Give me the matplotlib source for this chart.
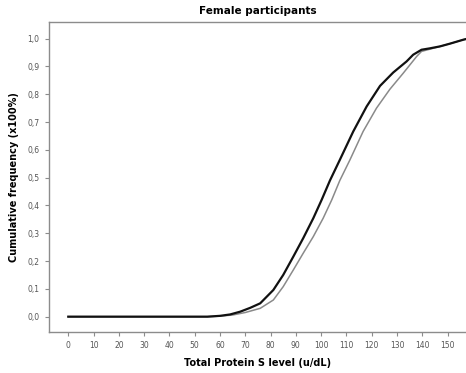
import matplotlib
matplotlib.use("Agg")
import matplotlib.pyplot as plt

# cumulative curves
black_x = [0, 55, 60, 64, 68, 72, 75.9, 81.1, 85, 89, 92.9, 96.9, 100.2, 103.5, 107.4,
           112.7, 118, 123.3, 128.5, 133.8, 136.4, 139.7, 143, 147, 151, 156.2, 158]
black_y = [0, 0, 0.003, 0.008, 0.018, 0.032, 0.048, 0.096, 0.15, 0.216, 0.282, 0.354,
           0.42, 0.49, 0.564, 0.666, 0.756, 0.83, 0.878, 0.918, 0.942, 0.96, 0.965,
           0.972, 0.982, 0.996, 1.0]
grey_x = [0, 55, 60, 65, 70, 75.9, 81.1, 85, 89, 92.9, 96.9, 100.8, 104.2, 107.4, 111.4,
          116.6, 121.9, 127.2, 132.5, 137.8, 139.7, 143, 147, 151, 156.2, 158]
grey_y = [0, 0, 0.002, 0.006, 0.015, 0.03, 0.06, 0.108, 0.168, 0.228, 0.288, 0.354,
          0.42, 0.49, 0.564, 0.666, 0.75, 0.818, 0.876, 0.936, 0.954, 0.962, 0.972,
          0.982, 0.996, 1.0]

xticks = list(range(0, 151, 10))
yticks = [i / 10 for i in range(11)]
ytick_labels = [("%.1f" % v).replace(".", ",") for v in yticks]

fig = plt.figure(figsize=(4.66, 3.73), dpi=100)
ax = fig.add_axes([0.1045, 0.11, 0.8955, 0.8297])

ax.plot(grey_x, grey_y, color="#8a8a8a", lw=1.1)
ax.plot(black_x, black_y, color="#111111", lw=1.6)

ax.set_xlim(-7.75, 157.3)
ax.set_ylim(-0.055, 1.058)
ax.set_xticks(xticks)
ax.set_xticklabels([str(t) for t in xticks])
ax.set_yticks(yticks)
ax.set_yticklabels(ytick_labels)

for s in ["left", "top", "bottom"]:
    ax.spines[s].set_color("#8c8c8c")
    ax.spines[s].set_linewidth(1.0)
ax.spines["right"].set_visible(False)
ax.tick_params(axis="both", colors="#8c8c8c", labelcolor="#555555",
               labelsize=5.5, length=3, width=0.8, direction="out")

ax.set_title("Female participants", fontsize=7.5, fontweight="bold", pad=6)
ax.set_xlabel("Total Protein S level (u/dL)", fontsize=7, fontweight="bold", labelpad=6)
ax.set_ylabel("Cumulative frequency (x100%)", fontsize=7, fontweight="bold", labelpad=6)

fig.savefig("out.png", dpi=100)
